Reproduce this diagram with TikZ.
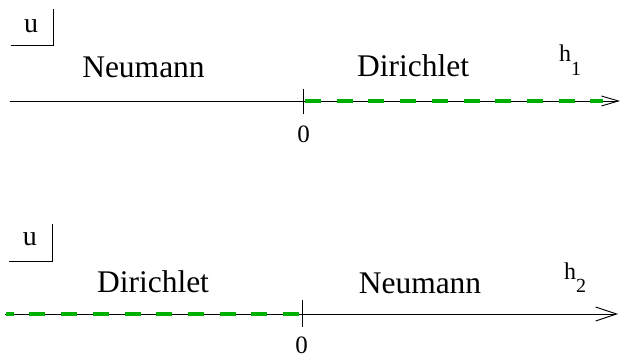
\documentclass[tikz,border=0pt]{standalone}
\usepackage{fontspec}
\setmainfont{Liberation Serif}
\usetikzlibrary{arrows.meta}
\definecolor{dgreen}{RGB}{0,176,0}
\tikzset{
  axisline/.style={line width=0.9pt, black},
  tickline/.style={line width=0.9pt, black},
  boxline/.style={line width=0.9pt, black},
  bcline/.style={line width=4.8pt, dgreen, dash pattern=on 16pt off 15.7pt},
  biglabel/.style={inner sep=0pt, anchor=base, font=\fontsize{31.5}{31.5}\selectfont},
  zerolabel/.style={inner sep=0pt, anchor=base, font=\fontsize{25}{25}\selectfont},
  ulabel/.style={inner sep=0pt, anchor=base, font=\fontsize{28}{28}\selectfont},
  hlabel/.style={inner sep=0pt, anchor=base west, font=\fontsize{24}{24}\selectfont},
}
\newcommand{\hsub}[1]{\raisebox{-13.5pt}{\fontsize{20}{20}\selectfont #1}}
\begin{document}
\begin{tikzpicture}[x=1pt,y=-1pt]
\useasboundingbox (0,0) rectangle (621,358);
% ---------- top ----------
\coordinate (a1s) at (10,101);
\coordinate (a1e) at (620,101);
\coordinate (g1s) at (305,101);
\coordinate (g1e) at (603,101);
\coordinate (t1a) at (303,89);
\coordinate (t1b) at (303,114);
\coordinate (u1a) at (53,9);
\coordinate (u1b) at (53,45);
\coordinate (u1c) at (11,45);
\draw[axisline, -{Straight Barb[length=17pt,width=10pt,line width=0.9pt]}] (a1s) -- (a1e);
\draw[bcline] (g1s) -- (g1e);
\draw[tickline] (t1a) -- (t1b);
\draw[boxline] (u1a) -- (u1b) -- (u1c);
\node[ulabel] (u1) at (31,33) {u};
\node[biglabel] (neu1) at (143.5,78) {Neumann};
\node[biglabel] (dir1) at (413,77) {Dirichlet};
\node[zerolabel] (z1) at (303.5,143) {0};
\node[hlabel] (h1) at (559,62) {h\hsub{1}};
% ---------- bottom ----------
\coordinate (a2s) at (5,314);
\coordinate (a2e) at (618,314);
\coordinate (g2s) at (299,314);
\coordinate (g2e) at (6,314);
\coordinate (t2a) at (302,300);
\coordinate (t2b) at (302,327);
\coordinate (u2a) at (52,224);
\coordinate (u2b) at (52,261);
\coordinate (u2c) at (9,261);
\draw[axisline, -{Straight Barb[length=21pt,width=14pt,line width=0.9pt]}] (a2s) -- (a2e);
\draw[bcline] (g2s) -- (g2e);
\draw[tickline] (t2a) -- (t2b);
\draw[boxline] (u2a) -- (u2b) -- (u2c);
\node[ulabel] (u2) at (30,245) {u};
\node[biglabel] (dir2) at (153,292) {Dirichlet};
\node[biglabel] (neu2) at (420,293) {Neumann};
\node[zerolabel] (z2) at (301.5,353) {0};
\node[hlabel] (h2) at (564,279) {h\hsub{2}};
\end{tikzpicture}
\end{document}
